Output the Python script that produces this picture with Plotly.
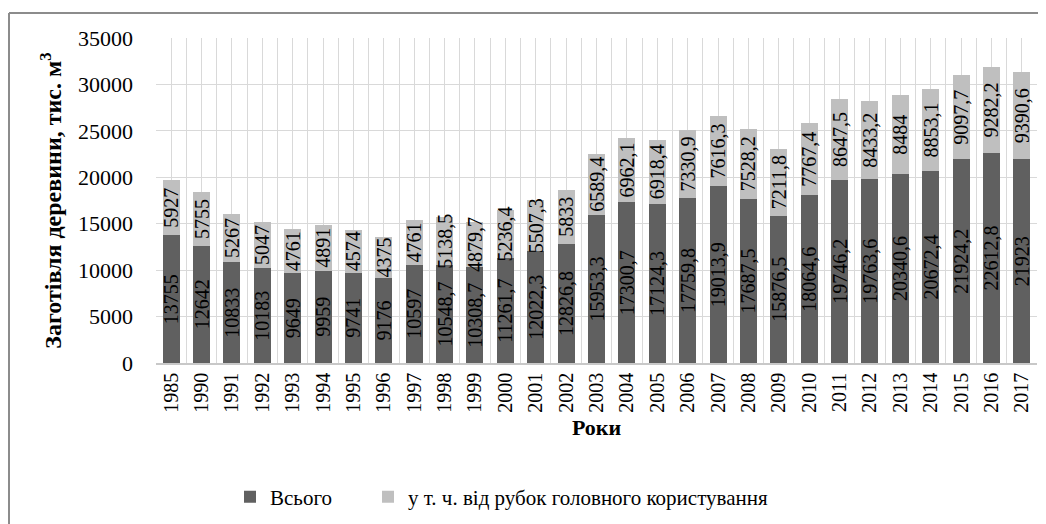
import plotly.graph_objects as go

years = ["1985", "1990", "1991", "1992", "1993", "1994", "1995", "1996", "1997", "1998",
         "1999", "2000", "2001", "2002", "2003", "2004", "2005", "2006", "2007", "2008",
         "2009", "2010", "2011", "2012", "2013", "2014", "2015", "2016", "2017"]
total = [13755, 12642, 10833, 10183, 9649, 9959, 9741, 9176, 10597, 10548.7,
         10308.7, 11261.7, 12022.3, 12826.8, 15953.3, 17300.7, 17124.3, 17759.8, 19013.9, 17687.5,
         15876.5, 18064.6, 19746.2, 19763.6, 20340.6, 20672.4, 21924.2, 22612.8, 21923]
main_cut = [5927, 5755, 5267, 5047, 4761, 4891, 4574, 4375, 4761, 5138.5,
            4879.7, 5236.4, 5507.3, 5833, 6589.4, 6962.1, 6918.4, 7330.9, 7616.3, 7528.2,
            7211.8, 7767.4, 8647.5, 8433.2, 8484, 8853.1, 9097.7, 9282.2, 9390.6]


def fmt(v):
    return f"{v:g}".replace(".", ",")


xs = list(range(len(years)))
SERIF = "Liberation Serif, Times New Roman, serif"

fig = go.Figure()
fig.add_trace(go.Bar(
    x=xs, y=total, name="Всього", marker=dict(color="#606060", line=dict(width=0)),
    text=[fmt(v) for v in total], textposition="inside", insidetextanchor="middle",
    textangle=-90, textfont=dict(family=SERIF, size=20, color="black"),
    legend="legend",
))
fig.add_trace(go.Bar(
    x=xs, y=main_cut, name="у т. ч. від рубок головного користування",
    marker=dict(color="#bfbfbf", line=dict(width=0)),
    text=[fmt(v) for v in main_cut], textposition="inside", insidetextanchor="middle",
    textangle=-90, textfont=dict(family=SERIF, size=20, color="black"),
    legend="legend2",
))

# page body has an 8px margin: figure coords = screen coords - 8
FW, FH = 1038, 516
L, R, T, B = 148, 1029, 30, 355
W, H = R - L, B - T


def px(x):
    return (x - L) / W


def py(y):
    return (B - y) / H


leg_common = dict(orientation="h", xanchor="left", y=py(489), yanchor="middle",
                  font=dict(family=SERIF, size=21), itemwidth=30,
                  bgcolor="rgba(0,0,0,0)")

fig.update_layout(
    width=FW, height=FH,
    barmode="stack", bargap=0.44,
    margin=dict(l=L, r=FW - R, t=T, b=FH - B, autoexpand=False),
    paper_bgcolor="white", plot_bgcolor="white",
    font=dict(family=SERIF, color="black"),
    uniformtext=dict(minsize=20, mode="show"),
    showlegend=True,
    legend=dict(x=px(222), **leg_common),
    legend2=dict(x=px(360), **leg_common),
    xaxis=dict(
        range=[-0.5, len(years) - 0.5], tickmode="array", tickvals=xs, ticktext=years,
        tickangle=-90, tickfont=dict(family=SERIF, size=20, color="black"),
        showgrid=True, gridcolor="#d9d9d9", gridwidth=1, ticks="",
        minor=dict(tickmode="array", tickvals=[i - 0.5 for i in range(len(years) + 1)],
                   showgrid=True, gridcolor="#d9d9d9", gridwidth=1, ticks=""),
        showline=True, linecolor="#c8c8c8", linewidth=1.5, zeroline=False,
        title=dict(text="<b>Роки</b>", font=dict(family=SERIF, size=22, color="black"), standoff=8),
        fixedrange=True,
    ),
    yaxis=dict(
        range=[0, 35000], dtick=5000, tickformat="d",
        tickfont=dict(family=SERIF, size=22, color="black"),
        showgrid=True, gridcolor="#d9d9d9", gridwidth=1, ticks="", ticklabelstandoff=22,
        zeroline=False, showline=False,
        title=dict(text="<b>Заготівля деревини, тис. м<sup>3</sup></b>",
                   font=dict(family=SERIF, size=24, color="black"), standoff=9),
    ),
    shapes=[
        dict(type="line", xref="paper", yref="paper", x0=px(1), x1=px(1045), y0=py(5), y1=py(5),
             line=dict(color="#8c8c8c", width=2)),
        dict(type="line", xref="paper", yref="paper", x0=px(1), x1=px(1), y0=py(5), y1=py(520),
             line=dict(color="#8c8c8c", width=2)),
    ],
)

fig.write_html("out.html")
